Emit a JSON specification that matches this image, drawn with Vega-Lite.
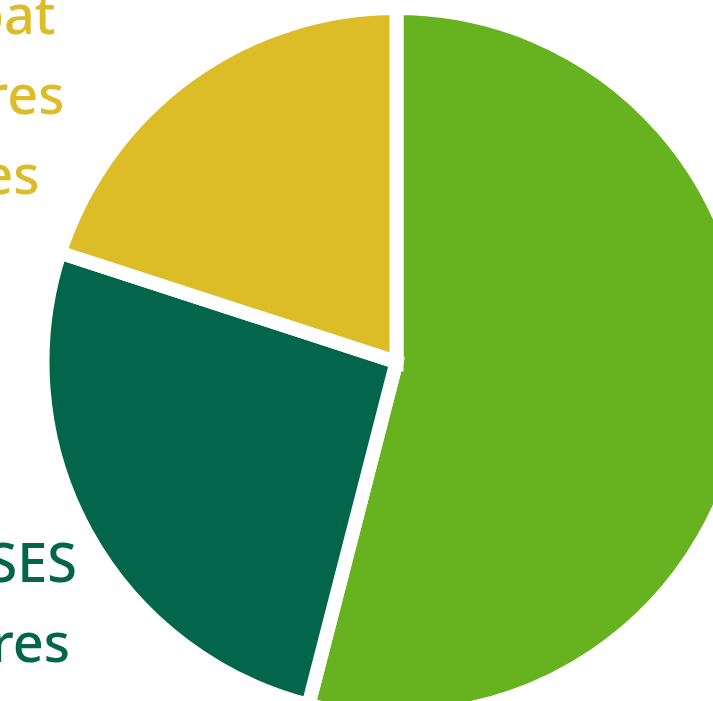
{
  "$schema": "https://vega.github.io/schema/vega-lite/v6.json",
  "width": 793,
  "height": 724,
  "autosize": {"type": "none"},
  "padding": {"left": 0, "top": 0, "right": -80, "bottom": -23},
  "background": "white",
  "config": {"view": {"stroke": null}},
  "layer": [
    {
      "data": {"values": [
        {"cat": "Textes", "value": 54, "ord": 1},
        {"cat": "Crises", "value": 26, "ord": 2},
        {"cat": "Débat", "value": 20, "ord": 3}
      ]},
      "mark": {"type": "arc", "outerRadius": 354, "stroke": "white", "strokeWidth": 14, "strokeJoin": "miter"},
      "encoding": {
        "theta": {"field": "value", "type": "quantitative", "stack": true},
        "order": {"field": "ord", "type": "quantitative"},
        "color": {"field": "cat", "type": "nominal", "legend": null,
          "scale": {"domain": ["Textes", "Crises", "Débat"], "range": ["#66b31f", "#03664a", "#dcbc27"]}}
      }
    },
    {
      "data": {"values": [
        {"cat": "Débat", "grp": 0, "label": "Débat\nautres\nvotes"},
        {"cat": "Crises", "grp": 1, "label": "CRISES\ncadres"}
      ]},
      "mark": {"type": "text", "align": "left", "baseline": "alphabetic", "font": "Noto Sans", "fontSize": 54, "fontWeight": 500, "lineBreak": "\n", "lineHeight": 80},
      "encoding": {
        "x": {"value": -100},
        "y": {"field": "grp", "type": "quantitative", "axis": null, "scale": {"domain": [0, 1], "range": [34, 582]}},
        "text": {"field": "label", "type": "nominal"},
        "color": {"field": "cat", "type": "nominal", "legend": null}
      }
    }
  ]
}
